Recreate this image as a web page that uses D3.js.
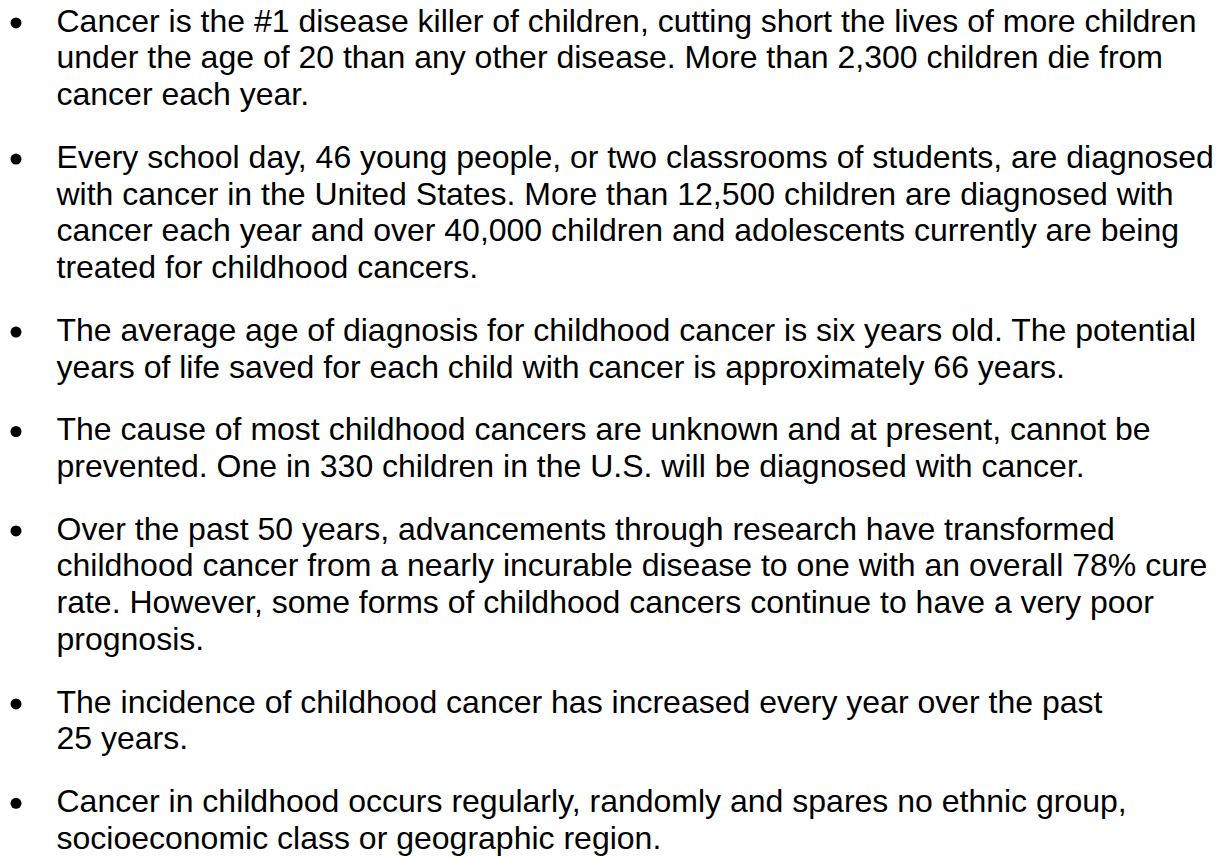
<!DOCTYPE html>
<html>
<head>
<meta charset="utf-8">
<script src="https://cdn.jsdelivr.net/npm/d3@7"></script>
<style>
  html, body { margin: 0; padding: 0; background: #fff; }
  svg { display: block; }
</style>
</head>
<body>
<div id="chart"></div>
<script>
// one array per bullet, one string per printed line
const fact1 = [
  "Cancer is the #1 disease killer of children, cutting short the lives of more children",
  "under the age of 20 than any other disease. More than 2,300 children die from",
  "cancer each year."
];
const fact2 = [
  "Every school day, 46 young people, or two classrooms of students, are diagnosed",
  "with cancer in the United States. More than 12,500 children are diagnosed with",
  "cancer each year and over 40,000 children and adolescents currently are being",
  "treated for childhood cancers."
];
const fact3 = [
  "The average age of diagnosis for childhood cancer is six years old. The potential",
  "years of life saved for each child with cancer is approximately 66 years."
];
const fact4 = [
  "The cause of most childhood cancers are unknown and at present, cannot be",
  "prevented. One in 330 children in the U.S. will be diagnosed with cancer."
];
const fact5 = [
  "Over the past 50 years, advancements through research have transformed",
  "childhood cancer from a nearly incurable disease to one with an overall 78% cure",
  "rate. However, some forms of childhood cancers continue to have a very poor",
  "prognosis."
];
const fact6 = [
  "The incidence of childhood cancer has increased every year over the past",
  "25 years."
];
const fact7 = [
  "Cancer in childhood occurs regularly, randomly and spares no ethnic group,",
  "socioeconomic class or geographic region."
];
const facts = [fact1, fact2, fact3, fact4, fact5, fact6, fact7];

const width = 1222;
const height = 861;

const fontSize = 32;
const lineH = 36.8;      // single spacing
const paraGap = 25.8;    // space after each paragraph
const bulletX = 16;
const textX = 56.5;
const firstBase = 31.5;

// flatten to rows with a "slot" position counted in lines + gaps
let rows = [];
let bullets = [];
let offset = 0;
facts.forEach((lines, p) => {
  bullets.push({ slot: offset });
  lines.forEach((t, i) => {
    rows.push({ text: t, slot: offset + i });
  });
  offset += lines.length + paraGap / lineH;
});

const y = d3.scaleLinear()
  .domain([0, 1])
  .range([firstBase, firstBase + lineH]);

const svg = d3.select("#chart")
  .append("svg")
  .attr("width", width)
  .attr("height", height);

svg.append("rect")
  .attr("width", width)
  .attr("height", height)
  .attr("fill", "#fff");

svg.append("g")
  .selectAll("circle")
  .data(bullets)
  .enter()
  .append("circle")
  .attr("cx", bulletX)
  .attr("cy", d => y(d.slot) - 8.6)
  .attr("r", 5.5)
  .attr("fill", "#000");

svg.append("g")
  .selectAll("text")
  .data(rows)
  .enter()
  .append("text")
  .attr("x", textX)
  .attr("y", d => y(d.slot))
  .attr("font-family", "'Liberation Sans', Arial, sans-serif")
  .attr("font-size", fontSize)
  .attr("fill", "#000")
  .text(d => d.text);
</script>
</body>
</html>
